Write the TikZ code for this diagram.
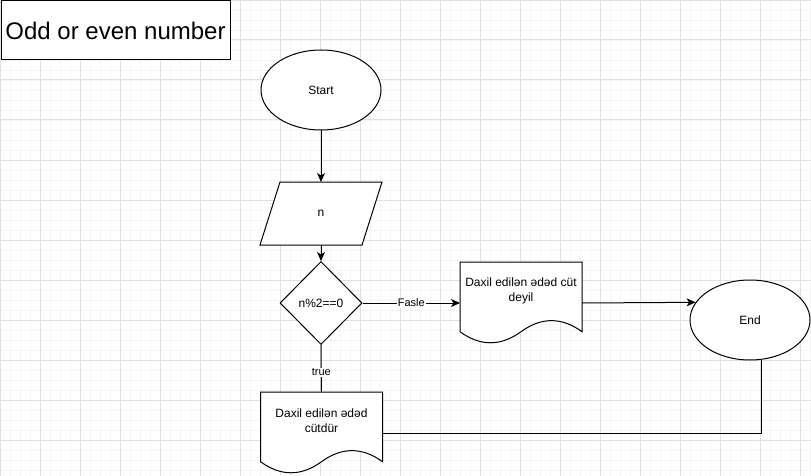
\documentclass[tikz,border=0pt]{standalone}
\usepackage{fontspec}
\setmainfont{Liberation Sans}
\usetikzlibrary{shapes.geometric,arrows.meta,calc}
\definecolor{gmajor}{HTML}{E0E0E0}
\definecolor{gminor}{HTML}{F5F5F5}
\tikzset{
  shapeline/.style={draw=black, line width=1pt, fill=white},
  nodefont/.style={font=\fontsize{12}{15}\selectfont},
  term/.style={ellipse, shapeline, nodefont, minimum width=120pt, minimum height=80pt, inner sep=0pt},
  decision/.style={diamond, shapeline, nodefont, minimum width=82pt, minimum height=83pt, inner sep=0pt},
  frame/.style={rectangle, draw=none, inner sep=0pt, outer sep=0pt},
  txt/.style={nodefont, align=center, inner sep=0pt},
  titlebox/.style={rectangle, draw=black, line width=1pt, fill=white, minimum width=229pt, minimum height=59pt, inner sep=0pt, font=\fontsize{24}{28}\selectfont},
  conn/.style={draw=black, line width=1pt},
  arrowconn/.style={conn, -{Stealth[length=9pt, width=8pt, inset=2.5pt]}},
  elabel/.style={fill=white, inner sep=1pt, font=\fontsize{11}{13}\selectfont}
}
\newcommand\docpath[1]{%
  \draw[shapeline, shift={(#1.north west)}] (0,0) -- (122,0) -- (122,69.7)
    .. controls (101.67,54.94) and (81.33,54.94) .. (61,69.7)
    .. controls (40.67,84.46) and (20.33,84.46) .. (0,69.7) -- cycle;}
\begin{document}
\begin{tikzpicture}[x=1pt,y=-1pt]
\useasboundingbox (0,0) rectangle (811,476);
\fill[white] (0,0) rectangle (811,476);
\draw[gminor, line width=0.8pt] (0,476) grid[step=10pt] (811,0);
\draw[gmajor, line width=1pt] (0,476) grid[step=40pt] (811,0);

% title
\node[titlebox] (title) at (115.5,30.5) {Odd or even number};

% start
\node[term] (start) at (321,90) {Start};

% input parallelogram
\node[frame, minimum width=102pt, minimum height=63pt] (inp) at (321,213.5) {};
\draw[shapeline] ($(inp.north west)+(10,0)$) -- ($(inp.north east)+(10,0)$)
  -- ($(inp.south east)+(-10,0)$) -- ($(inp.south west)+(-10,0)$) -- cycle;
\node[txt] (inptext) at (inp.center) {n};

% decision
\node[decision] (cond) at (321,303) {n\%2==0};

% false document
\node[frame, minimum width=122pt, minimum height=82pt] (no) at (521,303) {};
\docpath{no}
\node[txt] (notext) at ($(no.center)+(0,-12.3)$) {Daxil edilən ədəd cüt\\deyil};

% true document
\node[frame, minimum width=122pt, minimum height=82pt] (yes) at (321.5,433) {};
\docpath{yes}
\node[txt] (yestext) at ($(yes.center)+(0,-12.3)$) {Daxil edilən ədəd\\cütdür};

% end
\node[term] (end) at (750,320) {End};

% connectors
\draw[arrowconn] (start.south) -- (inp.north);
\draw[arrowconn] (inp.south) -- (cond.north);
\draw[arrowconn] (cond.east) -- node[elabel] (flabel) {Fasle} (no.west);
\draw[arrowconn] (no.east) -- (end.162.6);
\draw[conn] (cond.south) -- node[elabel, pos=0.58] (tlabel) {true} (yes.north);
\draw[conn] (end.-74.4) |- (yes.east);
\end{tikzpicture}
\end{document}
